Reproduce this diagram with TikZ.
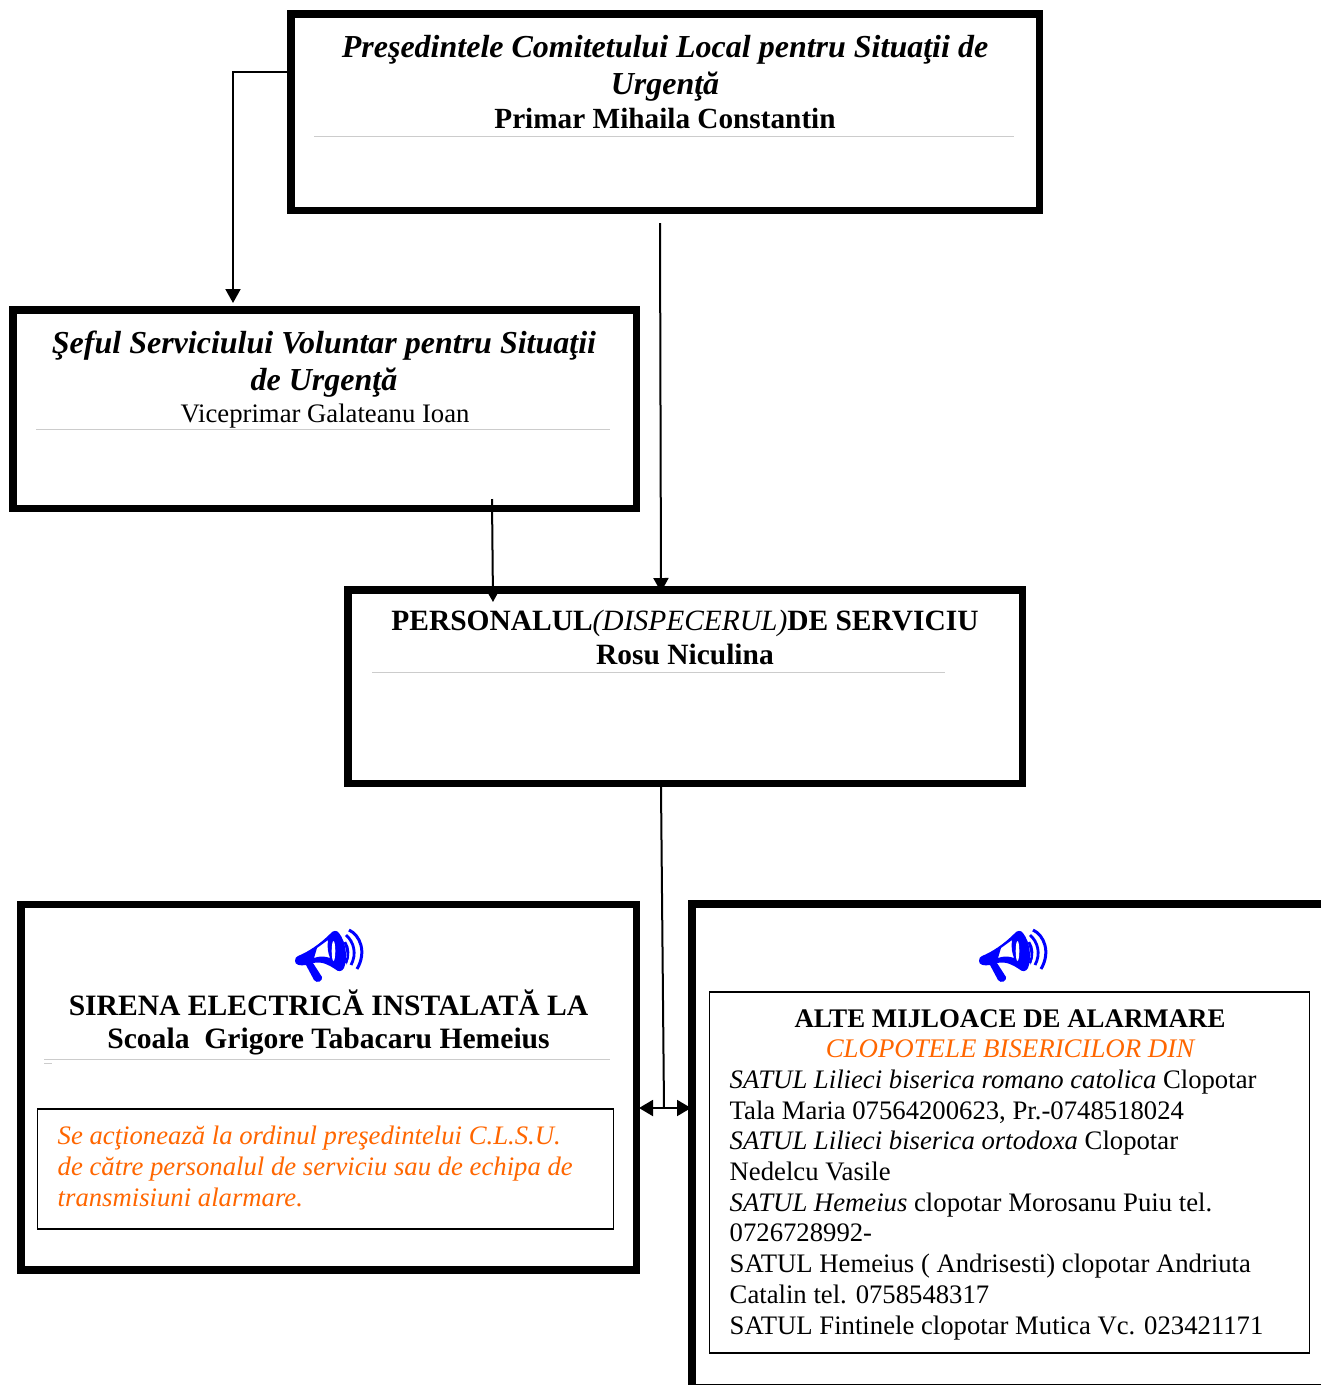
\documentclass[tikz,border=0pt]{standalone}
\usepackage{fontspec}
\setmainfont{Liberation Serif}
\usetikzlibrary{arrows.meta}
\definecolor{alarm}{HTML}{FF6600}
\tikzset{
  x=1pt,y=-1pt,
  heavybox/.style={draw=black,line width=7.5pt,anchor=north west,inner sep=0pt,minimum width=#1},
  thinbox/.style={draw=black,line width=1.6pt,anchor=north west,inner sep=0pt},
  ttl/.style={anchor=base,inner sep=0pt,align=center},
  lft/.style={anchor=base west,inner sep=0pt,align=left},
  conn/.style={draw=black,line width=2pt},
  tipped/.style={conn,-{Triangle[length=14pt,width=15pt]}},
  hair/.style={draw=black!20,line width=0.6pt},
  megaphone/.pic={
    \fill[blue,even odd rule] (15,41) .. controls (15,38) and (16,37) .. (18,36)
      .. controls (28,32) and (40,24) .. (50,14)
      .. controls (53,10) and (57,10) .. (59,13)
      .. controls (66,22) and (68,38) .. (64,48)
      .. controls (62,52) and (58,52) .. (55,49)
      .. controls (49,45) and (42,41) .. (33,43)
      -- (42,57) .. controls (43,61) and (37,64) .. (34,60)
      -- (26,45) .. controls (20,46) and (15,45) .. (15,41) -- cycle
      (34,38) -- (37,28) -- (48,20) .. controls (47,27) and (48,33) .. (50,38)
      .. controls (45,36) and (39,36) .. (34,38) -- cycle;
    \fill[white] (53.5,31) ellipse[x radius=1.8,y radius=10];
    \fill[blue] (63,21) .. controls (69,26) and (71,36) .. (66,45)
      .. controls (68,36) and (66,28) .. (63,21) -- cycle;
    \draw[blue,line width=2.4pt] (65,22) .. controls (69,28) and (69,36) .. (66,43);
    \draw[blue,line width=2.8pt] (66,15) .. controls (74,22) and (77,34) .. (71,45);
    \draw[blue,line width=3pt] (69,10) .. controls (80,15) and (87,32) .. (77,49);
  }
}
\begin{document}
\begin{tikzpicture}
\useasboundingbox (0,0) rectangle (1321,1385);
% main boxes
\node[heavybox=748.5pt,minimum height=196.5pt] (chief) at (287,10) {};
\node[heavybox=623.5pt,minimum height=198.5pt] (vol) at (9,306) {};
\node[heavybox=674.5pt,minimum height=193.5pt] (disp) at (344,586) {};
\node[heavybox=615.5pt,minimum height=365.5pt] (siren) at (17,900.5) {};
\node[thinbox,minimum width=576pt,minimum height=120pt] (order) at (36.5,1108.2) {};
\node[thinbox,minimum width=600pt,minimum height=361pt] (other) at (708.5,991.2) {};
\coordinate (oNW) at (692,904);
\coordinate (oNE) at (1325,904);
\coordinate (oSW) at (692,1387.5);
\coordinate (oSE) at (1325,1387.5);
\draw[black,line width=7.5pt] (oNE) -- (oNW) -- (oSW) -- (oSE);
\coordinate (oW) at (691,1108);
% hairlines
\coordinate (h1a) at (314,136.5); \coordinate (h1b) at (1014,136.5);
\coordinate (h2a) at (36,429.5); \coordinate (h2b) at (610,429.5);
\coordinate (h3a) at (372,672.5); \coordinate (h3b) at (945,672.5);
\coordinate (h4a) at (44,1059.5); \coordinate (h4b) at (610,1059.5);
\coordinate (h5a) at (44,1063); \coordinate (h5b) at (52,1063);
\draw[hair] (h1a) -- (h1b); \draw[hair] (h2a) -- (h2b); \draw[hair] (h3a) -- (h3b);
\draw[hair] (h4a) -- (h4b); \draw[hair] (h5a) -- (h5b);
% texts
\node[ttl,font=\fontsize{32}{37}\selectfont\bfseries\itshape] (t1) at (665,94) {Preşedintele Comitetului Local pentru Situaţii de\\ Urgenţă};
\node[ttl,font=\fontsize{29.25}{34}\selectfont\bfseries] (t1b) at (665,128) {Primar Mihaila Constantin};
\node[ttl,font=\fontsize{32}{37}\selectfont\bfseries\itshape] (t2) at (324,390) {Şeful Serviciului Voluntar pentru Situaţii\\ de Urgenţă};
\node[ttl,font=\fontsize{26.7}{31}\selectfont] (t2b) at (325,422) {Viceprimar Galateanu Ioan};
\node[ttl,font=\fontsize{29.45}{34}\selectfont\bfseries] (t3) at (685,664) {PERSONALUL{\mdseries\itshape (DISPECERUL)}DE SERVICIU\\ Rosu Niculina};
\node[ttl,font=\fontsize{29.6}{33}\selectfont\bfseries] (t4) at (328.5,1048) {SIRENA ELECTRICĂ INSTALATĂ LA\\ Scoala\ \ Grigore Tabacaru Hemeius};
\node[lft,font=\fontsize{26.7}{31}\selectfont\itshape,text=alarm] (t5) at (57.5,1206) {Se acţionează la ordinul preşedintelui C.L.S.U.\\ de către personalul de serviciu sau de echipa de\\ transmisiuni alarmare.};
\node[ttl,font=\fontsize{26.85}{30}\selectfont\bfseries] (t6) at (1010,1057) {ALTE MIJLOACE DE ALARMARE\\ {\mdseries\itshape\color{alarm} CLOPOTELE BISERICILOR DIN}};
\node[lft,font=\fontsize{26.7}{30.7}\selectfont] (t7) at (729.5,1334) {\textit{SATUL Lilieci biserica romano catolica} Clopotar\\ Tala Maria 07564200623, Pr.-0748518024\\ \textit{SATUL Lilieci biserica ortodoxa} Clopotar\\ Nedelcu Vasile\\ \textit{SATUL Hemeius} clopotar Morosanu Puiu tel.\\ 0726728992-\\ SATUL Hemeius ( Andrisesti) clopotar Andriuta\\ Catalin tel. 0758548317\\ SATUL Fintinele clopotar Mutica Vc. 023421171};
% icons
\pic (m1) at (280,920) {megaphone};
\pic (m2) at (964,920) {megaphone};
% connectors
\coordinate (c1a) at (chief.west |- 0,72);
\coordinate (c1b) at (233,72);
\coordinate (c1c) at (233,303);
\draw[tipped] (c1a) -- (c1b) -- (c1c);
\coordinate (c2a) at (660,223);
\coordinate (c2b) at (661,592);
\draw[tipped] (c2a) -- (c2b);
\coordinate (c3a) at (492,499);
\coordinate (c3b) at (493,602);
\draw[tipped] (c3a) -- (c3b);
\coordinate (c4a) at (661,787);
\coordinate (c4b) at (664,1108);
\draw[conn] (c4a) -- (c4b);
\coordinate (c5a) at (639,1108);
\draw[conn,{Triangle[length=14pt,width=16pt]}-{Triangle[length=14pt,width=16pt]}] (c5a) -- (oW);
\end{tikzpicture}
\end{document}
